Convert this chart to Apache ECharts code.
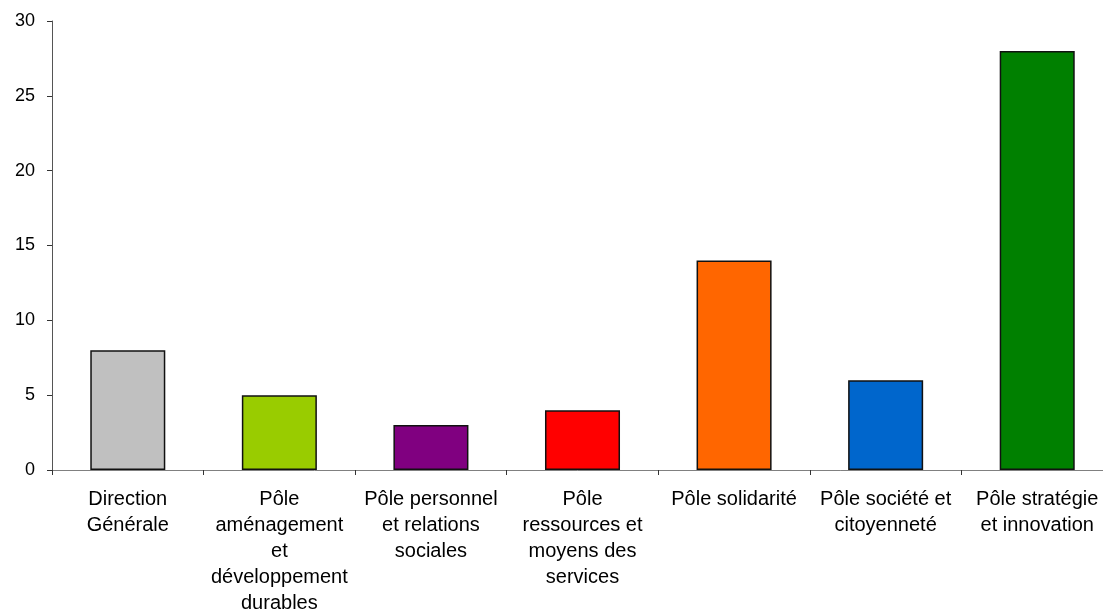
<!DOCTYPE html>
<html>
<head>
<meta charset="utf-8">
<script src="https://cdn.jsdelivr.net/npm/echarts@6/dist/echarts.min.js"></script>
<style>html,body{margin:0;padding:0;background:#fff;}#c{width:1103px;height:613px;}</style>
</head>
<body>
<div id="c"></div>
<script>
const categories = [
  "Direction\nGénérale",
  "Pôle\naménagement\net\ndéveloppement\ndurables",
  "Pôle personnel\net relations\nsociales",
  "Pôle\nressources et\nmoyens des\nservices",
  "Pôle solidarité",
  "Pôle société et\ncitoyenneté",
  "Pôle stratégie\net innovation"
];
const values = [8, 5, 3, 4, 14, 6, 28];
const barColors = ["#C0C0C0", "#99CC00", "#800080", "#FF0000", "#FF6600", "#0066CC", "#008000"];
const yTicks = [0, 5, 10, 15, 20, 25, 30];

const chart = echarts.init(document.getElementById('c'), null, {renderer: 'canvas'});
const font = "'Liberation Sans', Arial, sans-serif";
chart.setOption({
  animation: false,
  backgroundColor: '#ffffff',
  grid: {left: 52, width: 1061, top: 21, bottom: 143, containLabel: false, outerBoundsMode: 'none'},
  xAxis: {
    type: 'category',
    data: categories,
    axisLine: {show: true, lineStyle: {color: '#808080', width: 1}},
    axisTick: {show: true, inside: false, length: 5, alignWithLabel: false, lineStyle: {color: '#333333'}},
    axisLabel: {interval: 0, margin: 16, fontSize: 20, lineHeight: 26, color: '#000', fontFamily: font, align: 'center'},
    splitLine: {show: false}
  },
  yAxis: {
    type: 'value',
    min: yTicks[0],
    max: yTicks[yTicks.length - 1],
    interval: 5,
    axisLine: {show: true, lineStyle: {color: '#555555', width: 1}},
    axisTick: {show: true, inside: false, length: 5, lineStyle: {color: '#333333'}},
    axisLabel: {margin: 17, fontSize: 18, color: '#000', fontFamily: font},
    splitLine: {show: false}
  },
  series: [{
    type: 'bar',
    data: values.map((v, i) => ({value: v, itemStyle: {color: barColors[i]}})),
    barWidth: '49.5%',
    itemStyle: {borderColor: '#111111', borderWidth: 1.5}
  }]
});
</script>
</body>
</html>
